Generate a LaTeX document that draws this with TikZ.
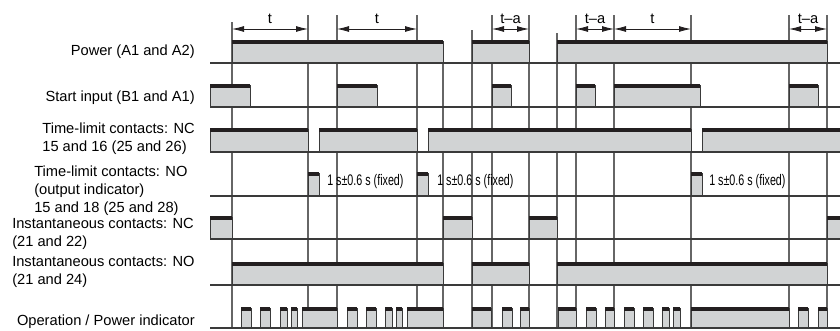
\documentclass[tikz,border=0pt]{standalone}
\usepackage{fontspec}
\setmainfont{Liberation Sans}
\newfontfamily\narrowsans[FakeStretch=0.70]{Liberation Sans}
\usepackage{tikz}
\usetikzlibrary{arrows.meta}
\definecolor{sigfill}{HTML}{D1D3D4}
\definecolor{sigtop}{HTML}{231F20}
\definecolor{rulegray}{HTML}{3A3A3A}
\definecolor{tickgray}{HTML}{666666}
% one high level of a signal: baseline, from, to, height
\newcommand{\pulse}[4]{%
  \fill[sigfill] (#2,#1) rectangle (#3,#1-#4);
  \draw[rulegray, line width=0.6pt] (#2,#1) -- (#2,#1-#4) (#3,#1-#4) -- (#3,#1);
  \draw[sigtop, line width=2.3pt] (#2,#1-#4+1) -- (#3,#1-#4+1);}

\begin{document}
\begin{tikzpicture}[x=0.75pt, y=-0.75pt, font=\fontsize{11}{13.5}\selectfont, >={Latex[length=9pt,width=4.5pt]}]
  \useasboundingbox (0,0) rectangle (840,330);
  \foreach \x/\t in {232/22, 308/15, 337/15, 417/15, 443/42, 472/30, 492/15, 529/15, 557/33, 576/15, 614/15, 691/15, 789/15, 827/15}
    \draw[tickgray, line width=0.8pt] (\x,\t) -- (\x,328);
  % signals
  \foreach \a/\b in {232/443, 472/529, 557/827} \pulse{63}{\a}{\b}{22};
  \foreach \a/\b in {210/250, 337/377, 492/511, 576/595, 614/700, 789/818} \pulse{107}{\a}{\b}{22};
  \foreach \a/\b in {210/308, 319/417, 428/691, 702/840} \pulse{152}{\a}{\b}{23};
  \foreach \a/\b in {308/319, 417/428, 691/702} \pulse{196}{\a}{\b}{23};
  \foreach \a/\b in {210/232, 443/472, 529/557, 827/840} \pulse{239}{\a}{\b}{22};
  \foreach \a/\b in {232/443, 472/529, 557/827} \pulse{285}{\a}{\b}{22};
  \foreach \a/\b in {241/251, 260/270, 280/287, 291/297, 302/337, 347/357, 366/376, 385/392, 396/402, 407/443,
    472/491, 502/512, 520/529, 558/576, 586/596, 605/614, 624/634, 643/653, 662/669, 673/680, 691/789, 798/808, 818/827}
    \pulse{328}{\a}{\b}{20};
  \foreach \y in {63,107,152,196,239,285,328}
    \draw[rulegray, line width=1pt] (210,\y) -- (840,\y);
  % timing dimensions
  \foreach \n/\x in {1/232, 2/308, 3/337, 4/417, 5/492, 6/529, 7/576, 8/614, 9/691, 10/789, 11/827}
    \coordinate (d\n) at (\x,29);
  \foreach \p/\q/\s [count=\i] in {1/2/t, 3/4/t, 5/6/t--a, 7/8/t--a, 8/9/t, 10/11/t--a}
    \draw[<->, sigtop, line width=0.6pt] (d\p) -- node[midway, yshift=8pt, text=black] (dim\i) {\s} (d\q);
  % row names
  \node[anchor=east, inner sep=0] (lpower) at (195,52) {Power (A1 and A2)};
  \node[anchor=east, inner sep=0] (lstart) at (195,98) {Start input (B1 and A1)};
  \node[anchor=east, inner sep=0, align=left] (ltnc) at (195,139) {Time-limit contacts: NC\\15 and 16 (25 and 26)};
  \node[anchor=west, inner sep=0, align=left] (ltno) at (34,191) {Time-limit contacts: NO\\(output indicator)\\15 and 18 (25 and 28)};
  \node[anchor=west, inner sep=0, align=left] (linc) at (12,234) {Instantaneous contacts: NC\\(21 and 22)};
  \node[anchor=west, inner sep=0, align=left] (lino) at (12,271.5) {Instantaneous contacts: NO\\(21 and 24)};
  \node[anchor=east, inner sep=0] (lop) at (195,322) {Operation / Power indicator};
  \foreach \x [count=\i] in {327,437,709}
    \node[anchor=west, inner sep=0, font=\narrowsans\fontsize{11.5}{13}\selectfont] (fix\i) at (\x,182) {1 s±0.6 s (fixed)};
\end{tikzpicture}
\end{document}
